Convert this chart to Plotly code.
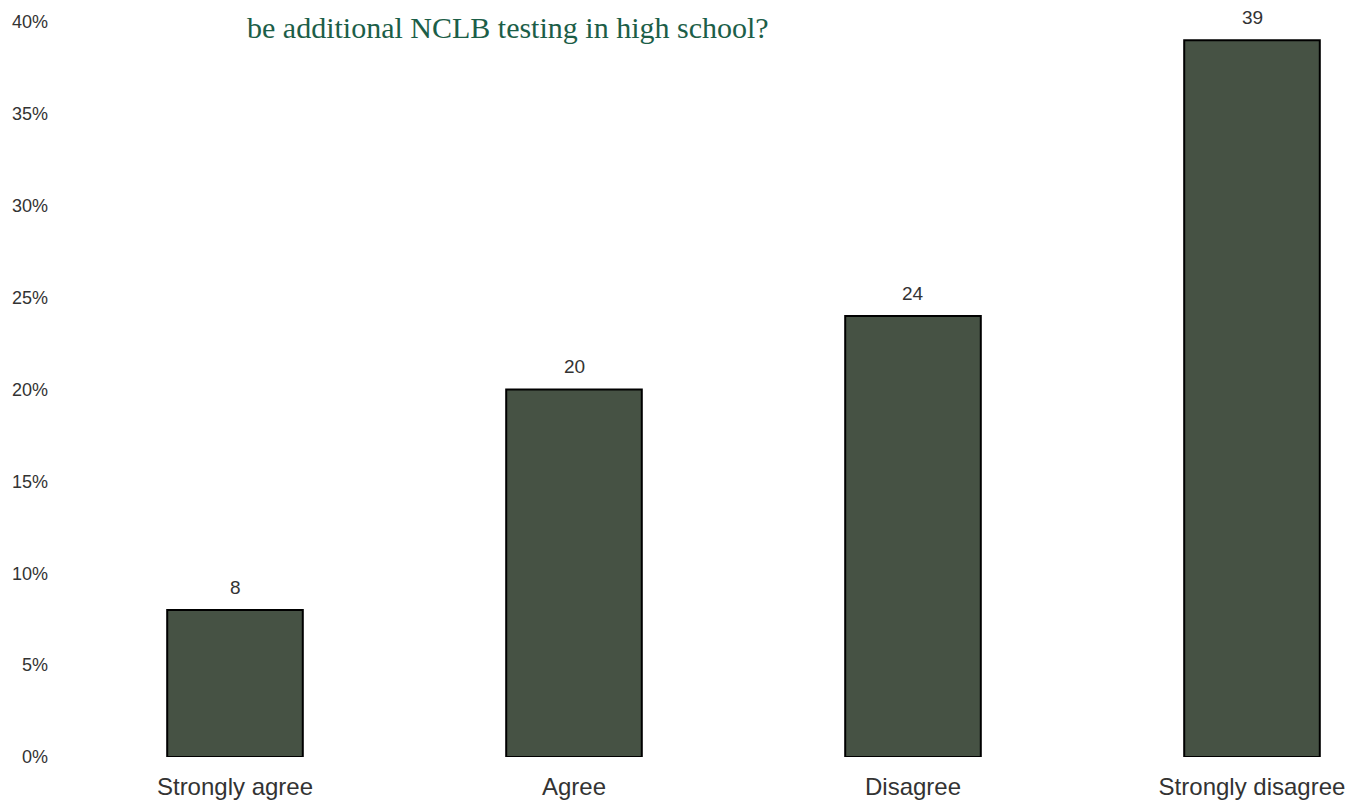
import plotly.graph_objects as go

categories = ["Strongly agree", "Agree", "Disagree", "Strongly disagree"]
values = [8, 20, 24, 39]
tick_vals = [0, 5, 10, 15, 20, 25, 30, 35, 40]
tick_text = ["0%", "5%", "10%", "15%", "20%", "25%", "30%", "35%", "40%"]
title_text = "be additional NCLB testing in high school?"

L, R = 47, 1342
fig = go.Figure()
fig.add_trace(go.Bar(
    x=list(range(len(categories))), y=values, width=0.4,
    marker=dict(color="#465244", line=dict(color="#000000", width=2)),
    hoverinfo="skip",
))
for i, v in enumerate(values):
    fig.add_annotation(x=i, y=v, text=str(v), showarrow=False, yanchor="bottom",
                       yshift=10, font=dict(family="Liberation Sans", size=19, color="#333333"))

fig.add_annotation(xref="paper", yref="paper", x=(237 - L) / (R - L), y=1,
                   xanchor="left", yanchor="top", yshift=-1, text=title_text, showarrow=False,
                   font=dict(family="Liberation Serif", size=30, color="#1c5e48"))

fig.update_layout(
    width=1360, height=808,
    margin=dict(l=L, r=1360 - R, t=0, b=59),
    plot_bgcolor="white", paper_bgcolor="white",
    showlegend=False,
    xaxis=dict(range=[-(227 - L) / 339, 3 + (R - 1244) / 339], tickvals=list(range(len(categories))),
               ticktext=categories, showgrid=False, zeroline=False, showline=False, ticks="",
               tickfont=dict(family="Liberation Sans", size=24, color="#333333"), ticklabelstandoff=13),
    yaxis=dict(range=[0, 749 / 18.38], tickvals=tick_vals, ticktext=tick_text, showgrid=False,
               zeroline=False, showline=False, ticks="",
               tickfont=dict(family="Liberation Sans", size=18, color="#333333"), ticklabelstandoff=6),
)
fig.write_html("out.html")
